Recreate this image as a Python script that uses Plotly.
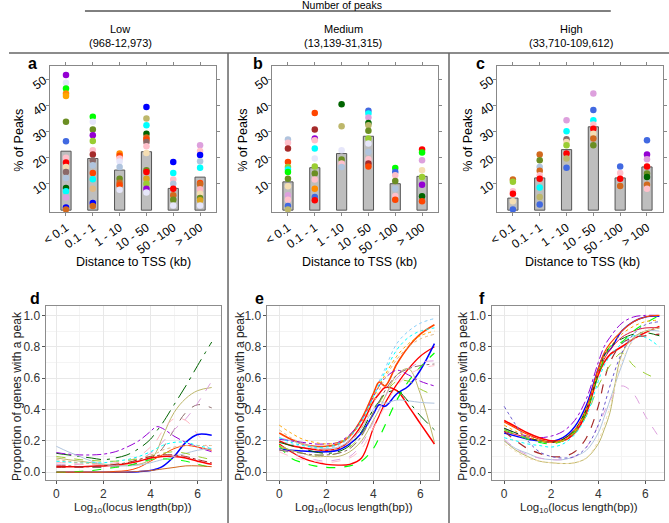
import plotly.graph_objects as go

W, H = 669, 523
FONT = "Liberation Sans"

# ---------------- data: bar panels ----------------
categories = ["< 0.1", "0.1 - 1", "1 - 10", "10 - 50", "50 - 100", "> 100"]
RB4 = "#8B6969"

a_bars = [22.5, 19.7, 15.3, 22.3, 8.3, 12.6]
b_bars = [10.8, 16.2, 21.6, 28.2, 10.1, 12.9]
c_bars = [4.6, 12.3, 23.1, 31.8, 12.3, 16.5]

a_vals = [
    [51.6, 48.6, 46.4, 44.5, 43.6, 33.7, 26.3, 20.0, 18.2, 16.5, 14.6, 12.3, 8.5, 7.2, 4.8, 1.0, 0.3],
    [35.6, 33.7, 30.8, 28.6, 26.4, 22.9, 21.2, 19.0, 17.1, 14.2, 11.8, 8.2, 2.7, 1.6],
    [21.6, 20.8, 19.7, 18.6, 16.5, 12.0, 10.5, 9.5, 7.8],
    [39.4, 35.0, 32.4, 29.2, 27.7, 27.0, 26.0, 24.4, 21.8, 15.2, 14.6, 12.0, 10.1, 8.2, 6.7],
    [18.4, 14.2, 11.7, 10.1, 8.2, 5.7, 4.0, 1.8],
    [24.8, 22.6, 21.0, 18.7, 16.2, 10.4, 9.9, 8.0, 6.3, 4.6, 3.8, 1.8],
]
a_cols = [
    ["darkviolet", "lavender", "lime", "darkorange", "orange", "olivedrab", "royalblue", "pink", "red",
     "wheat", RB4, "lightsteelblue", "darkgreen", "cyan", "plum", "blue", "chocolate"],
    ["lime", "lavender", "olivedrab", "darkviolet", "yellowgreen", "pink", "brown", RB4, "lightsteelblue",
     "orangered", "cyan", "burlywood", "blue", "chocolate"],
    ["darkorange", "orangered", "pink", "lavender", "lightsteelblue", "olivedrab", "chocolate", "orangered", "lavender"],
    ["blue", "darkkhaki", "cyan", "darkgreen", "chocolate", "orangered", RB4, "pink", "wheat",
     "olivedrab", "red", "goldenrod", "yellowgreen", "darkviolet", "lavender"],
    ["blue", "cyan", "pink", "lightsteelblue", "red", "chocolate", "olivedrab", "lavender"],
    ["plum", "pink", "blue", "lightsteelblue", "cyan", "orangered", "chocolate", "lightpink", "wheat",
     "olivedrab", "goldenrod", "lavender"],
]

b_vals = [
    [27.0, 25.7, 23.5, 18.4, 16.5, 15.5, 14.6, 12.0, 9.1, 5.7, 4.0, 1.6, 0.3],
    [37.1, 30.8, 27.3, 26.7, 23.5, 19.7, 16.7, 14.0, 11.7, 8.2, 5.0, 3.8],
    [40.4, 32.0, 22.9, 19.3, 17.8, 16.5],
    [37.9, 36.9, 35.4, 33.3, 32.4, 30.3, 27.3, 25.4, 22.2, 19.4, 17.8, 16.7],
    [16.1, 14.6, 13.3, 11.1, 8.2, 5.4, 4.0],
    [23.1, 22.0, 19.0, 15.2, 12.7, 9.7, 5.3, 3.4],
]
b_cols = [
    ["lightsteelblue", "pink", "brown", "orangered", "yellowgreen", "cyan", "lime", "olivedrab", "wheat",
     "plum", "pink", "royalblue", "darkkhaki"],
    ["orangered", "brown", "darkviolet", "pink", "cyan", "lavender", "yellowgreen", "olivedrab", "pink",
     "darkorange", "royalblue", "red"],
    ["darkgreen", "darkkhaki", "lavender", "olivedrab", "pink", "lightsteelblue"],
    ["royalblue", "cyan", "plum", "darkgreen", "darkkhaki", "olivedrab", "yellowgreen", "lavender",
     "lightsteelblue", "pink", "brown", "orangered"],
    ["lime", "royalblue", "pink", "olivedrab", "lightsteelblue", "pink", "orangered"],
    ["red", "lime", "plum", "wheat", "yellowgreen", "darkviolet", "darkgreen", "orangered"],
]

c_vals = [
    [11.7, 10.8, 7.2, 6.3, 3.4, 0.3],
    [21.2, 19.0, 16.5, 15.0, 13.3, 12.0, 8.6, 5.0, 2.2],
    [34.3, 30.1, 27.1, 26.0, 24.8, 21.6, 19.7, 16.2],
    [44.5, 38.2, 34.3, 32.7, 31.1, 29.2, 27.3, 24.8],
    [16.7, 14.2, 12.0, 9.2],
    [26.7, 21.2, 19.4, 16.7, 14.0, 12.7, 9.7, 8.2],
]
c_cols = [
    ["chocolate", "yellowgreen", "pink", "red", "wheat", "royalblue"],
    ["chocolate", "olivedrab", "lightsteelblue", "chocolate", "pink", "red", "cyan", "darkkhaki", "royalblue"],
    ["plum", "cyan", RB4, "wheat", "yellowgreen", "red", "darkkhaki", "royalblue"],
    ["plum", "royalblue", "cyan", "pink", "red", "wheat", "chocolate", "olivedrab"],
    ["royalblue", "pink", "red", "chocolate"],
    ["royalblue", "darkviolet", "plum", "red", "olivedrab", "darkgreen", "chocolate", "pink"],
]

# ---------------- data: line panels ----------------
loglen = [0, 0.5, 1, 1.5, 2, 2.5, 3, 3.5, 4, 4.25, 4.5, 5, 5.5, 6, 6.6]

d_curves = [
    [0.12, 0.11, 0.10, 0.09, 0.08, 0.09, 0.11, 0.15, 0.21, 0.26, 0.31, 0.43, 0.55, 0.68, 0.83],
    [0.09, 0.08, 0.07, 0.06, 0.05, 0.045, 0.045, 0.05, 0.08, 0.13, 0.22, 0.38, 0.47, 0.52, 0.54],
    [0.125, 0.115, 0.11, 0.11, 0.115, 0.13, 0.16, 0.20, 0.26, 0.29, 0.28, 0.23, 0.19, 0.16, 0.13],
    [0.03, 0.03, 0.03, 0.03, 0.03, 0.035, 0.04, 0.06, 0.09, 0.11, 0.15, 0.27, 0.38, 0.43, 0.41],
    [0.05, 0.05, 0.05, 0.05, 0.05, 0.05, 0.06, 0.08, 0.12, 0.15, 0.19, 0.27, 0.34, 0.44, 0.58],
    [0.06, 0.06, 0.05, 0.05, 0.05, 0.06, 0.07, 0.10, 0.16, 0.20, 0.26, 0.34, 0.33, 0.24, 0.13],
    [0.0, 0.0, 0.0, 0.0, 0.0, 0.0, 0.0, 0.003, 0.01, 0.02, 0.035, 0.10, 0.19, 0.24, 0.235],
    [0.035, 0.035, 0.035, 0.038, 0.04, 0.045, 0.055, 0.07, 0.09, 0.095, 0.10, 0.10, 0.09, 0.07, 0.05],
    [0.0, 0.0, 0.0, 0.0, 0.0, 0.005, 0.01, 0.03, 0.07, 0.09, 0.11, 0.15, 0.17, 0.16, 0.14],
    [0.165, 0.13, 0.10, 0.07, 0.05, 0.04, 0.04, 0.045, 0.06, 0.07, 0.08, 0.10, 0.12, 0.14, 0.15],
    [0.0, 0.0, 0.005, 0.01, 0.02, 0.03, 0.04, 0.06, 0.08, 0.085, 0.085, 0.08, 0.07, 0.05, 0.03],
    [0.07, 0.065, 0.06, 0.06, 0.06, 0.07, 0.08, 0.10, 0.13, 0.15, 0.17, 0.19, 0.19, 0.17, 0.15],
    [0.0, 0.0, 0.0, 0.0, 0.0, 0.0, 0.0, 0.005, 0.01, 0.015, 0.02, 0.03, 0.04, 0.04, 0.035],
    [0.10, 0.09, 0.08, 0.075, 0.07, 0.07, 0.075, 0.085, 0.10, 0.11, 0.12, 0.13, 0.12, 0.10, 0.08],
    [0.08, 0.07, 0.06, 0.055, 0.05, 0.05, 0.06, 0.08, 0.11, 0.12, 0.14, 0.16, 0.17, 0.17, 0.17],
    [0.04, 0.04, 0.035, 0.035, 0.04, 0.05, 0.06, 0.08, 0.10, 0.105, 0.11, 0.11, 0.10, 0.08, 0.06],
]
d_colors = ["darkgreen", "darkkhaki", "darkviolet", RB4, "plum", "lightpink", "blue", "red", "orangered",
            "lightsteelblue", "lime", "cyan", "chocolate", "yellowgreen", "burlywood", "brown"]
d_dashes = ["longdashdot", "solid", "dashdot", "dash", "dash", "dash", "solid", "solid", "solid",
            "solid", "dash", "dot", "solid", "dash", "dot", "dashdot"]
d_widths = [1.0, 1.0, 1.0, 1.0, 1.0, 1.0, 1.5, 1.5, 1.0, 1.0, 1.0, 1.0, 1.0, 1.0, 1.0, 1.0]

e_curves = [
    [0.20, 0.18, 0.16, 0.15, 0.15, 0.17, 0.22, 0.33, 0.50, 0.58, 0.66, 0.82, 0.90, 0.95, 0.98],
    [0.25, 0.21, 0.18, 0.165, 0.165, 0.18, 0.23, 0.34, 0.50, 0.575, 0.55, 0.69, 0.80, 0.88, 0.94],
    [0.20, 0.17, 0.155, 0.145, 0.14, 0.15, 0.20, 0.30, 0.45, 0.50, 0.54, 0.52, 0.42, 0.31, 0.18],
    [0.18, 0.13, 0.09, 0.065, 0.05, 0.045, 0.05, 0.09, 0.28, 0.36, 0.44, 0.56, 0.66, 0.74, 0.80],
    [0.15, 0.14, 0.135, 0.13, 0.13, 0.14, 0.18, 0.25, 0.37, 0.43, 0.42, 0.50, 0.55, 0.65, 0.82],
    [0.17, 0.14, 0.12, 0.10, 0.10, 0.10, 0.13, 0.20, 0.33, 0.40, 0.48, 0.62, 0.66, 0.50, 0.19],
    [0.22, 0.20, 0.18, 0.16, 0.15, 0.16, 0.20, 0.28, 0.40, 0.45, 0.44, 0.46, 0.455, 0.445, 0.44],
    [0.17, 0.09, 0.06, 0.04, 0.03, 0.03, 0.04, 0.07, 0.15, 0.22, 0.30, 0.46, 0.58, 0.67, 0.76],
    [0.21, 0.20, 0.19, 0.18, 0.18, 0.19, 0.24, 0.33, 0.48, 0.55, 0.60, 0.65, 0.62, 0.58, 0.55],
    [0.19, 0.17, 0.15, 0.13, 0.12, 0.13, 0.17, 0.26, 0.40, 0.45, 0.50, 0.52, 0.45, 0.36, 0.27],
    [0.16, 0.14, 0.12, 0.11, 0.11, 0.12, 0.16, 0.24, 0.38, 0.44, 0.50, 0.58, 0.58, 0.53, 0.49],
    [0.15, 0.12, 0.10, 0.08, 0.07, 0.08, 0.10, 0.18, 0.32, 0.40, 0.48, 0.60, 0.66, 0.70, 0.71],
    [0.14, 0.13, 0.12, 0.11, 0.11, 0.12, 0.15, 0.23, 0.38, 0.45, 0.52, 0.62, 0.66, 0.68, 0.69],
    [0.30, 0.25, 0.21, 0.19, 0.18, 0.19, 0.23, 0.32, 0.47, 0.55, 0.62, 0.74, 0.82, 0.87, 0.90],
    [0.27, 0.22, 0.18, 0.15, 0.14, 0.15, 0.19, 0.28, 0.44, 0.52, 0.60, 0.72, 0.80, 0.85, 0.88],
    [0.13, 0.10, 0.08, 0.07, 0.06, 0.07, 0.09, 0.15, 0.28, 0.35, 0.42, 0.55, 0.62, 0.66, 0.68],
    [0.22, 0.19, 0.17, 0.16, 0.16, 0.18, 0.23, 0.33, 0.48, 0.56, 0.64, 0.78, 0.86, 0.90, 0.92],
]
e_colors = ["lightskyblue", "orangered", "red", "red", "blue", "darkkhaki", "lightsteelblue", "lime",
            "darkviolet", "darkgreen", "yellowgreen", "plum", RB4, "orange", "burlywood", "pink", "cyan"]
e_dashes = ["dot", "solid", "solid", "solid", "solid", "solid", "solid", "dash", "dashdot", "longdashdot",
            "dash", "dash", "dashdot", "dot", "dot", "dash", "dot"]
e_widths = [1.0, 1.6, 1.5, 1.3, 1.5, 1.0, 1.0, 1.2, 1.0, 1.0, 1.0, 1.0, 1.0, 1.0, 1.0, 1.0, 1.0]

f_curves = [
    [0.28, 0.25, 0.23, 0.22, 0.23, 0.26, 0.33, 0.47, 0.70, 0.80, 0.86, 0.95, 0.99, 1.00, 1.00],
    [0.25, 0.23, 0.21, 0.20, 0.195, 0.22, 0.29, 0.43, 0.66, 0.75, 0.78, 0.90, 0.96, 0.99, 0.995],
    [0.33, 0.29, 0.25, 0.22, 0.20, 0.20, 0.25, 0.38, 0.62, 0.70, 0.75, 0.80, 0.85, 0.89, 0.93],
    [0.32, 0.28, 0.24, 0.21, 0.19, 0.21, 0.27, 0.41, 0.66, 0.76, 0.82, 0.90, 0.96, 0.99, 1.00],
    [0.26, 0.24, 0.22, 0.20, 0.19, 0.20, 0.26, 0.40, 0.64, 0.72, 0.78, 0.86, 0.90, 0.92, 0.92],
    [0.27, 0.24, 0.21, 0.19, 0.18, 0.20, 0.26, 0.39, 0.62, 0.72, 0.80, 0.83, 0.90, 0.95, 1.00],
    [0.28, 0.25, 0.22, 0.20, 0.19, 0.21, 0.27, 0.40, 0.63, 0.74, 0.80, 0.85, 0.88, 0.89, 0.87],
    [0.26, 0.20, 0.15, 0.12, 0.10, 0.10, 0.13, 0.22, 0.42, 0.58, 0.70, 0.82, 0.86, 0.87, 0.88],
    [0.20, 0.15, 0.12, 0.09, 0.08, 0.08, 0.10, 0.14, 0.25, 0.35, 0.46, 0.68, 0.85, 0.90, 0.90],
    [0.20, 0.14, 0.10, 0.07, 0.06, 0.055, 0.06, 0.09, 0.18, 0.27, 0.38, 0.75, 0.86, 0.90, 0.92],
    [0.21, 0.15, 0.11, 0.09, 0.08, 0.08, 0.10, 0.16, 0.30, 0.38, 0.46, 0.55, 0.50, 0.36, 0.22],
    [0.27, 0.24, 0.22, 0.20, 0.19, 0.20, 0.25, 0.36, 0.55, 0.62, 0.68, 0.76, 0.68, 0.63, 0.59],
    [0.22, 0.20, 0.18, 0.17, 0.16, 0.18, 0.24, 0.36, 0.58, 0.68, 0.74, 0.82, 0.87, 0.86, 0.80],
    [0.42, 0.30, 0.20, 0.13, 0.10, 0.09, 0.10, 0.16, 0.30, 0.42, 0.55, 0.76, 0.88, 0.94, 0.96],
    [0.30, 0.26, 0.23, 0.20, 0.19, 0.20, 0.26, 0.40, 0.64, 0.74, 0.80, 0.88, 0.93, 0.96, 0.97],
    [0.18, 0.13, 0.09, 0.07, 0.06, 0.055, 0.06, 0.09, 0.20, 0.30, 0.42, 0.70, 0.84, 0.90, 0.92],
]
f_colors = ["darkviolet", "blue", "red", "orangered", "crimson", "lime", "darkgreen", "brown",
            "lightsteelblue", "darkkhaki", "plum", "yellowgreen", "cyan", "slateblue", "orange", "wheat"]
f_dashes = ["dashdot", "solid", "solid", "solid", "solid", "dash", "longdashdot", "dash", "solid", "solid",
            "dash", "dash", "dot", "dot", "dot", "dot"]
f_widths = [1.0, 1.4, 1.6, 1.2, 1.0, 1.1, 1.0, 1.2, 1.0, 1.0, 1.0, 1.0, 1.0, 1.0, 1.0, 1.0]

# ---------------- layout helpers ----------------
def px(x):
    return x / W

def py(y):
    return 1 - y / H

fig = go.Figure()

top_dom = [(42, 210), (267, 435), (495, 663)]
bot_dom = [(38, 215), (262, 436), (490, 664)]
bot_xr = [[-0.42, 7.0], [-0.5, 6.8], [-0.5, 6.8]]

# bar panels
for i, (bars, vals, cols) in enumerate([(a_bars, a_vals, a_cols), (b_bars, b_vals, b_cols), (c_bars, c_vals, c_cols)]):
    ax = "" if i == 0 else str(i + 1)
    fig.add_trace(go.Bar(x=list(range(6)), y=bars, width=0.38,
                         marker=dict(color="#BEBEBE", line=dict(color="#555555", width=1)),
                         xaxis="x" + ax, yaxis="y" + ax, showlegend=False, hoverinfo="skip"))
    xs, ys, cs = [], [], []
    for k in range(6):
        for v, c in zip(vals[k], cols[k]):
            xs.append(k)
            ys.append(v)
            cs.append(c)
    fig.add_trace(go.Scatter(x=xs, y=ys, mode="markers",
                             marker=dict(color=cs, size=6.5, line=dict(width=0)),
                             xaxis="x" + ax, yaxis="y" + ax, showlegend=False))

# line panels
for i, (curves, colors, dashes, widths) in enumerate([(d_curves, d_colors, d_dashes, d_widths),
                                                        (e_curves, e_colors, e_dashes, e_widths),
                                                        (f_curves, f_colors, f_dashes, f_widths)]):
    ax = str(i + 4)
    for ycur, c, dsh, w in zip(curves, colors, dashes, widths):
        fig.add_trace(go.Scatter(x=loglen, y=ycur, mode="lines",
                                 line=dict(color=c, dash=dsh, width=w, shape="spline", smoothing=1.0),
                                 xaxis="x" + ax, yaxis="y" + ax, showlegend=False))

layout = dict(width=W, height=H, margin=dict(l=0, r=0, t=0, b=0),
              paper_bgcolor="white", plot_bgcolor="white",
              font=dict(family=FONT, size=12, color="black"), showlegend=False)

for i in range(3):
    ax = "" if i == 0 else str(i + 1)
    layout["xaxis" + ax] = dict(domain=[px(top_dom[i][0]), px(top_dom[i][1])], anchor="y" + ax,
                                range=[-0.58, 5.6], tickvals=list(range(6)), ticktext=categories,
                                tickangle=-35, ticks="outside", ticklen=3, tickcolor="#888888",
                                showline=True, linecolor="#888888", linewidth=1, mirror="ticks",
                                showgrid=False, zeroline=False, tickfont=dict(size=12, color="black"))
    layout["yaxis" + ax] = dict(domain=[py(212), py(66)], anchor="x" + ax,
                                range=[-0.7, 55], tickvals=[10, 20, 30, 40, 50], tickangle=-35,
                                ticks="outside", ticklen=3, tickcolor="#888888",
                                showline=True, linecolor="#888888", linewidth=1, mirror="ticks",
                                showgrid=False, zeroline=False, tickfont=dict(size=12, color="black"))
for i in range(3):
    ax = str(i + 4)
    layout["xaxis" + ax] = dict(domain=[px(bot_dom[i][0]), px(bot_dom[i][1])], anchor="y" + ax,
                                range=bot_xr[i], tickvals=[0, 2, 4, 6], ticks="outside", ticklen=3,
                                tickcolor="#555555", showline=True, linecolor="#8C8C8C", mirror=True,
                                showgrid=True, gridcolor="#E8E8E8", gridwidth=1, zeroline=False,
                                minor=dict(tickvals=[1, 3, 5], showgrid=True, gridcolor="#F4F4F4"),
                                tickfont=dict(size=12, color="#333333"))
    layout["yaxis" + ax] = dict(domain=[py(480), py(306)], anchor="x" + ax,
                                range=[-0.05, 1.06], tickvals=[0, 0.2, 0.4, 0.6, 0.8, 1.0],
                                tickformat=".1f", ticks="outside", ticklen=3, tickcolor="#555555",
                                showline=True, linecolor="#8C8C8C", mirror=True,
                                showgrid=True, gridcolor="#E8E8E8", gridwidth=1, zeroline=False,
                                minor=dict(tickvals=[0.1, 0.3, 0.5, 0.7, 0.9], showgrid=True, gridcolor="#F4F4F4"),
                                tickfont=dict(size=12, color="#333333"))

SEP_Y = 53
shapes = [
    dict(type="line", xref="paper", yref="paper", x0=px(77), x1=px(610), y0=py(11), y1=py(11),
         line=dict(color="black", width=1)),
    dict(type="line", xref="paper", yref="paper", x0=0, x1=1, y0=py(SEP_Y), y1=py(SEP_Y),
         line=dict(color="#666666", width=1.5)),
    dict(type="line", xref="paper", yref="paper", x0=px(222), x1=px(222), y0=0, y1=py(SEP_Y),
         line=dict(color="#666666", width=1.5)),
    dict(type="line", xref="paper", yref="paper", x0=px(446), x1=px(446), y0=0, y1=py(SEP_Y),
         line=dict(color="#666666", width=1.5)),
]
layout["shapes"] = shapes

def ann(x, y, text, size=12, bold=False, angle=0, color="black"):
    t = "<b>%s</b>" % text if bold else text
    return dict(x=px(x), y=py(y), xref="paper", yref="paper", text=t, showarrow=False,
                textangle=angle, font=dict(size=size, color=color, family=FONT),
                xanchor="center", yanchor="middle")

annotations = [
    ann(338, 5, "Number of peaks", 10.5),
    ann(113, 29, "Low", 11), ann(113, 43, "(968-12,973)", 11),
    ann(339, 29, "Medium", 11), ann(339, 43, "(13,139-31,315)", 11),
    ann(570, 29, "High", 11), ann(570, 43, "(33,710-109,612)", 11),
    ann(24, 63, "a", 16, True), ann(252, 63, "b", 16, True), ann(478, 63, "c", 16, True),
    ann(26, 298, "d", 16, True), ann(254, 298, "e", 16, True), ann(479, 298, "f", 16, True),
    ann(10, 140, "% of Peaks", 12.5, angle=-90), ann(237, 140, "% of Peaks", 12.5, angle=-90),
    ann(465, 140, "% of Peaks", 12.5, angle=-90),
    ann(126, 262, "Distance to TSS (kb)", 12.5), ann(355, 262, "Distance to TSS (kb)", 12.5),
    ann(581, 262, "Distance to TSS (kb)", 12.5),
    ann(8, 396, "Proportion of genes with a peak", 12, angle=-90, color="#222222"),
    ann(234, 396, "Proportion of genes with a peak", 12, angle=-90, color="#222222"),
    ann(460, 396, "Proportion of genes with a peak", 12, angle=-90, color="#222222"),
    ann(126, 508, "Log<sub>10</sub>(locus length(bp))", 11.5, color="#222222"),
    ann(350, 508, "Log<sub>10</sub>(locus length(bp))", 11.5, color="#222222"),
    ann(578, 508, "Log<sub>10</sub>(locus length(bp))", 11.5, color="#222222"),
]
layout["annotations"] = annotations

fig.update_layout(**layout)
fig.write_html("out.html", config={"displayModeBar": False},
               post_script="document.body.style.margin='0px';document.body.style.overflow='hidden';")
